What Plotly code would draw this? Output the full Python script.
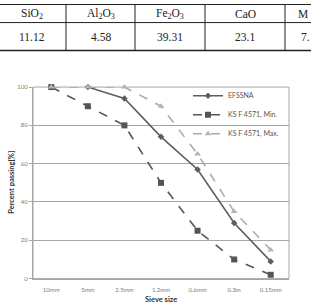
import plotly.graph_objects as go

# ---- data ----
sieve_sizes = ["10mm", "5mm", "2.5mm", "1.2mm", "0.6mm", "0.3m", "0.15mm"]
efssna = [None, 100, 94, 74, 57, 29, 9]
ks_min = [100, 90, 80, 50, 25, 10, 2]
ks_max = [100, 100, 100, 90, 65, 35, 15]

table_headers = ["SiO<sub>2</sub>", "Al<sub>2</sub>O<sub>3</sub>", "Fe<sub>2</sub>O<sub>3</sub>", "CaO", "M"]
table_values = ["11.12", "4.58", "39.31", "23.1", "7."]

W, H = 311, 308
def px(x):
    return x / W
def py(y):
    return 1 - y / H

fig = go.Figure()

fig.add_trace(go.Scatter(
    x=sieve_sizes, y=efssna, name="EFSSNA", mode="lines+markers",
    line=dict(color="#5e5e5e", width=1.6),
    marker=dict(symbol="diamond", size=5, color="#5e5e5e"),
    cliponaxis=False, connectgaps=False))
fig.add_trace(go.Scatter(
    x=sieve_sizes, y=ks_min, name="KS F 4571, Min.", mode="lines+markers",
    line=dict(color="#555555", width=1.6, dash="dash"),
    marker=dict(symbol="square", size=6, color="#555555"),
    cliponaxis=False))
fig.add_trace(go.Scatter(
    x=sieve_sizes, y=ks_max, name="KS F 4571, Max.", mode="lines+markers",
    line=dict(color="#ababab", width=1.6, dash="dash"),
    marker=dict(symbol="triangle-up", size=6, color="#b5b5b5"),
    cliponaxis=False))

shapes = []
annotations = []

# plot frame (top / right border)
shapes.append(dict(type="rect", xref="x domain", yref="y domain",
                   x0=0, x1=1, y0=0, y1=1, line=dict(color="#a6a6a6", width=1), layer="below"))

# ---- table (top) ----
tcol = "#222222"
col_lines = [66, 135, 205, 285]
for xl in col_lines:
    shapes.append(dict(type="line", xref="paper", yref="paper",
                       x0=px(xl), x1=px(xl), y0=py(0), y1=py(47.5),
                       line=dict(color=tcol, width=1)))
for yl, wdt in [(0.5, 1), (19, 1), (47.5, 1.5)]:
    shapes.append(dict(type="line", xref="paper", yref="paper",
                       x0=0, x1=1, y0=py(yl), y1=py(yl),
                       line=dict(color=tcol, width=wdt)))
tfont = dict(family="Liberation Serif", size=11.5, color=tcol)
centers = [32, 100.5, 170, 245]
for i, c in enumerate(centers):
    annotations.append(dict(x=px(c), y=py(10), xref="paper", yref="paper",
                            xanchor="center", yanchor="middle",
                            text=table_headers[i], showarrow=False, font=tfont))
    annotations.append(dict(x=px(c), y=py(34), xref="paper", yref="paper",
                            xanchor="center", yanchor="middle",
                            text=table_values[i], showarrow=False, font=tfont))
annotations.append(dict(x=px(296), y=py(10), xref="paper", yref="paper",
                        xanchor="left", yanchor="middle",
                        text=table_headers[4], showarrow=False, font=tfont))
annotations.append(dict(x=px(299), y=py(34), xref="paper", yref="paper",
                        xanchor="left", yanchor="middle",
                        text=table_values[4], showarrow=False, font=tfont))

# axis titles
annotations.append(dict(x=px(161), y=py(302), xref="paper", yref="paper",
                        xanchor="center", yanchor="middle",
                        text="<b>Sieve size</b>", showarrow=False,
                        font=dict(family="Lato", size=7.5, color="#333333")))
annotations.append(dict(x=px(12), y=py(183), xref="paper", yref="paper",
                        xanchor="center", yanchor="middle",
                        text="<b>Percent passing[%]</b>", showarrow=False, textangle=-90,
                        font=dict(family="Lato", size=7.5, color="#333333")))

fig.update_layout(
    width=W, height=H,
    margin=dict(l=0, r=0, t=0, b=0),
    paper_bgcolor="white", plot_bgcolor="white",
    font=dict(family="Lato", size=6, color="#7a7a7a"),
    showlegend=True,
    legend=dict(x=px(188), y=py(79), xanchor="left", yanchor="top",
                bgcolor="rgba(0,0,0,0)", font=dict(size=7, color="#555555"),
                itemwidth=30),
    xaxis=dict(domain=[px(33), px(289)], range=[-0.5, 6.5], type="category",
               showgrid=False, showline=True, linecolor="#a6a6a6", linewidth=1,
               ticks="", ticklabelstandoff=5, tickfont=dict(size=6, color="#7a7a7a"),
               zeroline=False, fixedrange=True),
    yaxis=dict(domain=[py(281), py(85)], range=[0, 100],
               tickvals=[0, 20, 40, 60, 80, 100],
               showgrid=True, gridcolor="#a6a6a6", gridwidth=1,
               showline=True, linecolor="#a6a6a6", linewidth=1,
               ticks="outside", ticklen=3, tickcolor="#a6a6a6",
               tickfont=dict(size=6, color="#7a7a7a"), zeroline=False),
    shapes=shapes, annotations=annotations,
)

fig.write_html("out.html")
